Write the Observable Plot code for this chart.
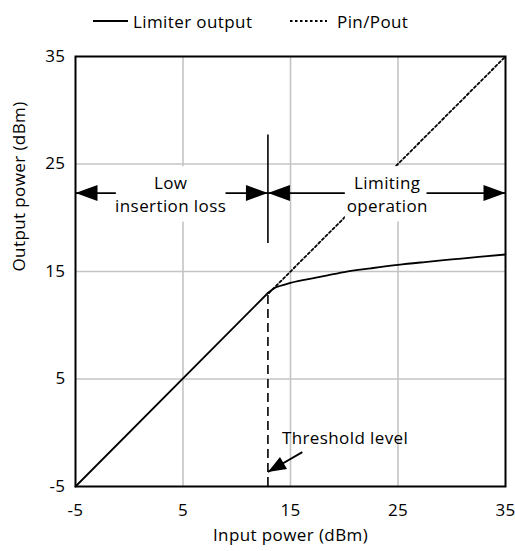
<!DOCTYPE html>
<html><head><meta charset="utf-8">
<script src="https://cdn.jsdelivr.net/npm/d3@7"></script>
<script src="https://cdn.jsdelivr.net/npm/@observablehq/plot@0.6"></script>
<style>
body{margin:0;background:#fff;font-family:"Open Sans",sans-serif;}
#wrap{position:relative;width:515px;height:551px;}
#legend{position:relative;height:40px;font-size:17px;letter-spacing:0.4px;color:#000;}
#legend .item{position:absolute;top:8px;height:26px;display:flex;align-items:center;}
#legend svg{margin-right:5px;}
</style></head><body>
<div id="wrap">
  <div id="legend">
    <div class="item" style="left:93px"><svg width="35" height="4"><line x1="0" x2="35" y1="2" y2="2" stroke="#000" stroke-width="2"/></svg><span>Limiter output</span></div>
    <div class="item" style="left:290px"><svg width="37" height="4" style="margin-right:10px"><line x1="0" x2="37" y1="2" y2="2" stroke="#000" stroke-width="1.8" stroke-dasharray="2.5,2.5"/></svg><span>Pin/Pout</span></div>
  </div>
  <div id="chart"></div>
</div>
<script>
// ---- data ----
const xTicks = [-5, 5, 15, 25, 35];
const yTicks = [-5, 5, 15, 25, 35];
const linearIn = [-5, 12.9];
const linearOut = [-5, 13.0];
const limitIn = [12.9, 13.5, 14, 15, 17.5, 20, 22.5, 25, 27.5, 30, 32.5, 35];
const limitOut = [13.0, 13.45, 13.65, 13.95, 14.45, 14.95, 15.3, 15.62, 15.88, 16.12, 16.36, 16.58];
const idealIn = [13, 35];
const idealOut = [13, 35];
const threshold = 12.9;
const thresholdTop = 13.0;
const dividerRange = [17.6, 27.7];
const regionLevel = 22.3;
const regionLabels = ["Low\ninsertion loss", "Limiting\noperation"];
const regionLabelX = [3.85, 24.0];
// label boxes (gaps in the arrows): [x1, x2]
const regionBoxX = [[-1.2, 9.0], [20.1, 27.7]];
const regionBoxY = [19.6, 24.75];
const thresholdLabel = "Threshold level";
const thresholdLabelPos = [14.2, -0.55];
const thresholdArrowTail = [16.1, -1.8];
const thresholdArrowTip = [12.9, -3.65];

// ---- build ----
const linear = linearIn.map((x, i) => ({x, y: linearOut[i]}));
const limiting = limitIn.map((x, i) => ({x, y: limitOut[i]}));
const ideal = idealIn.map((x, i) => ({x, y: idealOut[i]}));

function head(angleDeg, len, half) {
  const a = angleDeg * Math.PI / 180, c = Math.cos(a), s = Math.sin(a);
  const pts = [[0, 0], [-len, -half], [-len, half]].map(([px, py]) => [px * c - py * s, px * s + py * c]);
  return {draw(ctx) { ctx.moveTo(...pts[0]); ctx.lineTo(...pts[1]); ctx.lineTo(...pts[2]); ctx.closePath(); }};
}

const rightHeads = [{x: threshold, y: regionLevel}, {x: 35, y: regionLevel}];
const leftHeads = [{x: -5, y: regionLevel}, {x: threshold, y: regionLevel}];
const boxes = regionBoxX.map(([a, b]) => ({x1: a, x2: b, y1: regionBoxY[0], y2: regionBoxY[1]}));
const tAngle = Math.atan2(
  -(thresholdArrowTip[1] - thresholdArrowTail[1]),
  (thresholdArrowTip[0] - thresholdArrowTail[0])) * 180 / Math.PI;

const font = "Open Sans";
const fmt = d => String(d);
const chart = Plot.plot({
  width: 515,
  height: 511,
  marginTop: 16,
  marginBottom: 65,
  marginLeft: 75,
  marginRight: 10,
  style: {fontSize: "17px", fontFamily: font, color: "#000", background: "#fff", letterSpacing: "0.4px"},
  x: {domain: [-5, 35]},
  y: {domain: [-5, 35]},
  marks: [
    Plot.gridX([5, 15, 25], {stroke: "#c4c4c4", strokeOpacity: 1, strokeWidth: 1.6}),
    Plot.gridY([5, 15, 25], {stroke: "#c4c4c4", strokeOpacity: 1, strokeWidth: 1.6}),
    Plot.axisX(xTicks, {tickSize: 0, tickPadding: 17, label: null, fontSize: 17, tickFormat: fmt}),
    Plot.axisY(yTicks, {tickSize: 0, tickPadding: 10, label: null, fontSize: 17, tickFormat: fmt}),
    Plot.text(["Input power (dBm)"], {frameAnchor: "bottom", dy: 54, fontSize: 17}),
    Plot.text(["Output power (dBm)"], {frameAnchor: "left", dx: -56, rotate: -90, fontSize: 17}),
    Plot.line(ideal, {x: "x", y: "y", stroke: "#000", strokeWidth: 1.8, strokeDasharray: "2.5,2.5"}),
    Plot.line(linear, {x: "x", y: "y", stroke: "#000", strokeWidth: 1.8}),
    Plot.line(limiting, {x: "x", y: "y", stroke: "#000", strokeWidth: 1.8, curve: "monotone-x"}),
    Plot.ruleX([threshold], {y1: -5, y2: thresholdTop, stroke: "#000", strokeWidth: 1.6, strokeDasharray: "9,5"}),
    Plot.ruleX([threshold], {y1: dividerRange[0], y2: dividerRange[1], stroke: "#000", strokeWidth: 1.6}),
    Plot.ruleY([regionLevel], {x1: -5, x2: 35, stroke: "#000", strokeWidth: 1.8}),
    Plot.rect(boxes, {x1: "x1", x2: "x2", y1: "y1", y2: "y2", fill: "#fff"}),
    Plot.dot(rightHeads, {x: "x", y: "y", symbol: head(0, 22, 8), fill: "#000", stroke: null}),
    Plot.dot(leftHeads, {x: "x", y: "y", symbol: head(180, 22, 8), fill: "#000", stroke: null}),
    Plot.text(regionLabels, {x: (d, i) => regionLabelX[i], y: () => regionLevel, text: d => d, fontSize: 17, lineHeight: 1.33, lineAnchor: "middle"}),
    Plot.link([0], {x1: () => thresholdArrowTail[0], y1: () => thresholdArrowTail[1], x2: () => thresholdArrowTip[0], y2: () => thresholdArrowTip[1], stroke: "#000", strokeWidth: 1.8}),
    Plot.dot([0], {x: () => thresholdArrowTip[0], y: () => thresholdArrowTip[1], symbol: head(tAngle, 18, 7), fill: "#000", stroke: null}),
    Plot.text([thresholdLabel], {x: () => thresholdLabelPos[0], y: () => thresholdLabelPos[1], textAnchor: "start", fontSize: 17}),
    Plot.frame({stroke: "#000", strokeWidth: 2})
  ]
});
document.getElementById("chart").appendChild(chart);
</script>
</body></html>
